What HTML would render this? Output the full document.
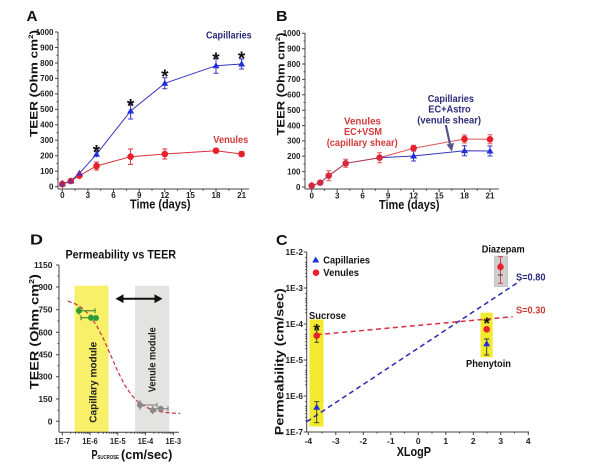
<!DOCTYPE html>
<html>
<head>
<meta charset="utf-8">
<style>
html,body{margin:0;padding:0;background:#fff;}
svg{display:block;}
text{font-family:"Liberation Sans",Arial,sans-serif;font-weight:bold;}
</style>
</head>
<body>
<svg width="604" height="465" viewBox="0 0 604 465" xmlns="http://www.w3.org/2000/svg">
<rect width="604" height="465" fill="#fff"/>

<!-- ================= PANEL A ================= -->
<text x="26.5" y="21" font-size="15" textLength="11" lengthAdjust="spacingAndGlyphs" fill="#111">A</text>
<g stroke="#444" stroke-width="1" fill="none">
  <line x1="58" y1="32" x2="58" y2="189"/>
  <line x1="58" y1="189" x2="249" y2="189"/>
  <path d="M55 186.7H58M55 171.2H58M55 155.8H58M55 140.3H58M55 124.8H58M55 109.4H58M55 93.9H58M55 78.4H58M55 63H58M55 47.5H58M55 32H58"/>
  <path d="M56.5 179H58M56.5 163.5H58M56.5 148H58M56.5 132.6H58M56.5 117.1H58M56.5 101.6H58M56.5 86.2H58M56.5 70.7H58M56.5 55.2H58M56.5 39.8H58"/>
  <path d="M62.3 189V192M87.9 189V192M113.5 189V192M139.2 189V192M164.8 189V192M190.4 189V192M216 189V192M241.6 189V192"/>
  <path d="M75.1 189V190.8M100.7 189V190.8M126.4 189V190.8M152 189V190.8M177.6 189V190.8M203.2 189V190.8M228.8 189V190.8"/>
</g>
<g font-size="8" fill="#222" text-anchor="end">
  <text x="53.5" y="189.5">0</text>
  <text x="53.5" y="174">100</text>
  <text x="53.5" y="158.6">200</text>
  <text x="53.5" y="143.1">300</text>
  <text x="53.5" y="127.6">400</text>
  <text x="53.5" y="112.2">500</text>
  <text x="53.5" y="96.7">600</text>
  <text x="53.5" y="81.2">700</text>
  <text x="53.5" y="65.8">800</text>
  <text x="53.5" y="50.3">900</text>
  <text x="53.5" y="34.8">1000</text>
</g>
<g font-size="8" fill="#222" text-anchor="middle">
  <text x="62.3" y="197.8">0</text>
  <text x="87.9" y="197.8">3</text>
  <text x="113.5" y="197.8">6</text>
  <text x="139.2" y="197.8">9</text>
  <text x="164.8" y="197.8">12</text>
  <text x="190.4" y="197.8">15</text>
  <text x="216" y="197.8">18</text>
  <text x="241.6" y="197.8">21</text>
</g>
<text x="130" y="208.7" font-size="13" textLength="60.5" lengthAdjust="spacingAndGlyphs" fill="#111">Time (days)</text>
<text transform="translate(37.3,83.5) rotate(-90) scale(1,0.85)" text-anchor="middle" font-size="13.5" textLength="107" lengthAdjust="spacingAndGlyphs" fill="#111">TEER (Ohm cm<tspan font-size="8" dy="-5">2</tspan><tspan dy="5">)</tspan></text>

<!-- A venules -->
<g stroke="#d8303a" stroke-width="1" fill="none">
  <polyline points="62.3,184 70.8,181 79.4,175.7 96.5,166 130.6,156.7 164.8,154 216,150.7 241.6,154"/>
  <path d="M62.3 180V188M96.5 162V170M94 162H99M94 170H99M130.6 149V164.4M128 149H133M128 164.4H133M164.8 149V159M162.3 149H167.3M162.3 159H167.3M216 148.5V152.9M213.5 148.5H218.5M213.5 152.9H218.5M241.6 151.8V156.2M239.1 151.8H244.1M239.1 156.2H244.1"/>
</g>
<!-- A capillaries -->
<g stroke="#3535c0" stroke-width="1" fill="none">
  <polyline points="62.3,184 70.8,181 79.4,173.3 96.5,154.3 130.6,111 164.8,83.3 216,65.7 241.6,64"/>
  <path d="M96.5 151.3V157.3M94 151.3H99M130.6 103V119M128.1 103H133.1M128.1 119H133.1M164.8 77.8V88.8M162.3 77.8H167.3M162.3 88.8H167.3M216 58.2V73.2M213.5 58.2H218.5M213.5 73.2H218.5M241.6 59V69M239.1 59H244.1M239.1 69H244.1"/>
</g>
<g fill="#e8202a">
  <circle cx="62.3" cy="184" r="3.3"/><circle cx="70.8" cy="181" r="3.3"/><circle cx="79.4" cy="175.7" r="3.3"/><circle cx="96.5" cy="166" r="3.3"/><circle cx="130.6" cy="156.7" r="3.3"/><circle cx="164.8" cy="154" r="3.3"/><circle cx="216" cy="150.7" r="3.3"/><circle cx="241.6" cy="154" r="3.3"/>
</g>
<g fill="#2030d8">
  <path d="M62.3 180.5L65.8 186.5L58.8 186.5Z" fill="#8a2a80"/>
  <path d="M70.8 177.5L74.3 183.5L67.3 183.5Z" fill="#8a2a80"/>
  <path d="M79.4 169.8L82.9 175.8L75.9 175.8Z" fill="#6a2aa0"/>
  <path d="M96.5 150.8L100 156.8L93 156.8Z"/>
  <path d="M130.6 107.5L134.1 113.5L127.1 113.5Z"/>
  <path d="M164.8 79.8L168.3 85.8L161.3 85.8Z"/>
  <path d="M216 62.2L219.5 68.2L212.5 68.2Z"/>
  <path d="M241.6 60.5L245.1 66.5L238.1 66.5Z"/>
</g>
<g font-size="19" fill="#111" text-anchor="middle">
  <text x="96.5" y="158.5">*</text>
  <text x="130.6" y="112.5">*</text>
  <text x="164.8" y="83">*</text>
  <text x="216" y="65.8">*</text>
  <text x="241.6" y="64.8">*</text>
</g>
<text x="206" y="38.5" font-size="10.5" textLength="45.7" lengthAdjust="spacingAndGlyphs" fill="#2b2b7a">Capillaries</text>
<text x="213.3" y="143" font-size="10.5" textLength="35" lengthAdjust="spacingAndGlyphs" fill="#d23a3a">Venules</text>

<!-- ================= PANEL B ================= -->
<text x="276" y="21" font-size="15" textLength="11.5" lengthAdjust="spacingAndGlyphs" fill="#111">B</text>
<g stroke="#444" stroke-width="1" fill="none">
  <line x1="305" y1="33" x2="305" y2="189"/>
  <line x1="305" y1="189" x2="499" y2="189"/>
  <path d="M302 187H305M302 171.6H305M302 156.3H305M302 140.9H305M302 125.5H305M302 110.2H305M302 94.8H305M302 79.4H305M302 64H305M302 48.7H305M302 33.3H305"/>
  <path d="M303.5 179.3H305M303.5 164H305M303.5 148.6H305M303.5 133.2H305M303.5 117.9H305M303.5 102.5H305M303.5 87.1H305M303.5 71.7H305M303.5 56.4H305M303.5 41H305"/>
  <path d="M311.7 189V192M337.2 189V192M362.6 189V192M388.1 189V192M413.6 189V192M439.1 189V192M464.5 189V192M490 189V192"/>
  <path d="M324.4 189V190.8M349.9 189V190.8M375.3 189V190.8M400.8 189V190.8M426.3 189V190.8M451.8 189V190.8M477.2 189V190.8"/>
</g>
<g font-size="8" fill="#222" text-anchor="end">
  <text x="300.5" y="189.8">0</text>
  <text x="300.5" y="174.4">100</text>
  <text x="300.5" y="159.1">200</text>
  <text x="300.5" y="143.7">300</text>
  <text x="300.5" y="128.3">400</text>
  <text x="300.5" y="113">500</text>
  <text x="300.5" y="97.6">600</text>
  <text x="300.5" y="82.2">700</text>
  <text x="300.5" y="66.8">800</text>
  <text x="300.5" y="51.5">900</text>
  <text x="300.5" y="36.1">1000</text>
</g>
<g font-size="8" fill="#222" text-anchor="middle">
  <text x="311.7" y="198.5">0</text>
  <text x="337.2" y="198.5">3</text>
  <text x="362.6" y="198.5">6</text>
  <text x="388.1" y="198.5">9</text>
  <text x="413.6" y="198.5">12</text>
  <text x="439.1" y="198.5">15</text>
  <text x="464.5" y="198.5">18</text>
  <text x="490" y="198.5">21</text>
</g>
<text x="379" y="209" font-size="13" textLength="60.5" lengthAdjust="spacingAndGlyphs" fill="#111">Time (days)</text>
<text transform="translate(284.3,84) rotate(-90) scale(1,0.85)" text-anchor="middle" font-size="13.5" textLength="103" lengthAdjust="spacingAndGlyphs" fill="#111">TEER (Ohm cm<tspan font-size="8" dy="-5">2</tspan><tspan dy="5">)</tspan></text>

<!-- B capillaries (blue) -->
<g stroke="#3535c0" stroke-width="1" fill="none">
  <polyline points="311.7,185.7 320.2,182.7 328.7,175.7 345.7,163.3 379.6,157.7 413.6,156 464.5,150.7 490,151"/>
  <path d="M413.6 151V161M411.1 151H416.1M411.1 161H416.1M464.5 145.7V155.7M462 145.7H467M462 155.7H467M490 146V156M487.5 146H492.5M487.5 156H492.5"/>
</g>
<!-- B venules (red) -->
<g stroke="#d83a3a" stroke-width="1" fill="none" stroke-opacity="0.85">
  <polyline points="311.7,185.7 320.2,182.7 328.7,175.7 345.7,163.3 379.6,157.7 413.6,148.3 464.5,139 490,139.3"/>
  <path d="M311.7 182V189.5M328.7 170.7V180.7M326.2 170.7H331.2M326.2 180.7H331.2M345.7 159.3V167.3M343.2 159.3H348.2M343.2 167.3H348.2M379.6 152.7V162.7M377.1 152.7H382.1M377.1 162.7H382.1M413.6 145.3V151.3M411.1 145.3H416.1M464.5 135V143M462 135H467M462 143H467M490 134.8V143.8M487.5 134.8H492.5M487.5 143.8H492.5"/>
</g>
<g fill="#2030d8">
  <path d="M413.6 152.5L417.1 158.5L410.1 158.5Z"/>
  <path d="M464.5 147.2L468 153.2L461 153.2Z"/>
  <path d="M490 147.5L493.5 153.5L486.5 153.5Z"/>
</g>
<g fill="#d42a40">
  <circle cx="311.7" cy="185.7" r="3.3"/><circle cx="320.2" cy="182.7" r="3.3"/><circle cx="328.7" cy="175.7" r="3.3"/><circle cx="345.7" cy="163.3" r="3.3"/><circle cx="379.6" cy="157.7" r="3.3"/><circle cx="413.6" cy="148.3" r="3.3" fill="#e8202a"/><circle cx="464.5" cy="139" r="3.3" fill="#e8202a"/><circle cx="490" cy="139.3" r="3.3" fill="#e8202a"/>
</g>
<g font-size="10.5" fill="#d23a3a">
  <text x="344" y="124.5" textLength="37" lengthAdjust="spacingAndGlyphs">Venules</text>
  <text x="344" y="135.2" textLength="38" lengthAdjust="spacingAndGlyphs">EC+VSM</text>
  <text x="326.7" y="146" textLength="71" lengthAdjust="spacingAndGlyphs">(capillary shear)</text>
</g>
<g font-size="10.5" fill="#2b2b7a">
  <text x="427.7" y="102" textLength="46.3" lengthAdjust="spacingAndGlyphs">Capillaries</text>
  <text x="428.3" y="112.5" textLength="42.4" lengthAdjust="spacingAndGlyphs">EC+Astro</text>
  <text x="417.3" y="123.5" textLength="63.7" lengthAdjust="spacingAndGlyphs">(venule shear)</text>
</g>
<line x1="445.8" y1="125" x2="450.2" y2="145" stroke="#55558a" stroke-width="2.2"/>
<path d="M446.6 144.5L454 143L451.9 151.5Z" fill="#55558a"/>

<!-- ================= PANEL D ================= -->
<text x="30" y="244.5" font-size="15" textLength="13" lengthAdjust="spacingAndGlyphs" fill="#111">D</text>
<text x="65.5" y="258.3" font-size="11.5" textLength="110.5" lengthAdjust="spacingAndGlyphs" fill="#111">Permeability vs TEER</text>
<rect x="74.5" y="285.7" width="34" height="146.3" fill="#f7f068"/>
<rect x="135" y="285.7" width="34.3" height="146.3" fill="#e3e3e1"/>
<text transform="translate(96.3,382.3) rotate(-90)" text-anchor="middle" font-size="10" textLength="81" lengthAdjust="spacingAndGlyphs" fill="#222">Capillary module</text>
<text transform="translate(155.6,359.7) rotate(-90)" text-anchor="middle" font-size="10" textLength="65" lengthAdjust="spacingAndGlyphs" fill="#222">Venule module</text>
<g stroke="#444" stroke-width="1" fill="none">
  <line x1="59" y1="265" x2="59" y2="432.3"/>
  <line x1="59" y1="432.3" x2="179" y2="432.3"/>
  <path d="M56 265H59M56 287H59M56 309.7H59M56 332.3H59M56 354.7H59M56 376.7H59M56 399H59M56 421.3H59"/>
  <path d="M57.5 276H59M57.5 298.3H59M57.5 321H59M57.5 343.5H59M57.5 365.7H59M57.5 387.8H59M57.5 410.2H59"/>
  <path d="M62.3 432.3V435.3M90 432.3V435.3M117.8 432.3V435.3M145.5 432.3V435.3M173.3 432.3V435.3"/>
  <path d="M70.7 432.3V433.8M75.5 432.3V433.8M79 432.3V433.8M81.7 432.3V433.8M83.9 432.3V433.8M85.8 432.3V433.8M87.4 432.3V433.8M88.8 432.3V433.8
           M98.4 432.3V433.8M103.3 432.3V433.8M106.8 432.3V433.8M109.5 432.3V433.8M111.7 432.3V433.8M113.5 432.3V433.8M115.1 432.3V433.8M116.5 432.3V433.8
           M126.1 432.3V433.8M131 432.3V433.8M134.5 432.3V433.8M137.2 432.3V433.8M139.4 432.3V433.8M141.2 432.3V433.8M142.8 432.3V433.8M144.2 432.3V433.8
           M153.9 432.3V433.8M158.8 432.3V433.8M162.2 432.3V433.8M164.9 432.3V433.8M167.1 432.3V433.8M169 432.3V433.8M170.6 432.3V433.8M172 432.3V433.8"/>
</g>
<g font-size="8.5" fill="#222" text-anchor="end">
  <text x="52.5" y="268">1150</text>
  <text x="52.5" y="290">900</text>
  <text x="52.5" y="312.7">750</text>
  <text x="52.5" y="335.3">600</text>
  <text x="52.5" y="357.7">450</text>
  <text x="52.5" y="379.7">300</text>
  <text x="52.5" y="402">150</text>
  <text x="52.5" y="424.3">0</text>
</g>
<g font-size="8.5" fill="#222" text-anchor="middle">
  <text x="62.3" y="444.2" textLength="15.5" lengthAdjust="spacingAndGlyphs">1E-7</text>
  <text x="90" y="444.2" textLength="15.5" lengthAdjust="spacingAndGlyphs">1E-6</text>
  <text x="117.8" y="444.2" textLength="15.5" lengthAdjust="spacingAndGlyphs">1E-5</text>
  <text x="145.5" y="444.2" textLength="15.5" lengthAdjust="spacingAndGlyphs">1E-4</text>
  <text x="173.3" y="444.2" textLength="15.5" lengthAdjust="spacingAndGlyphs">1E-3</text>
</g>
<text x="91.5" y="459" font-size="13" fill="#111" textLength="6" lengthAdjust="spacingAndGlyphs">P</text>
<text x="97.5" y="459" font-size="5.5" fill="#111" textLength="21.5" lengthAdjust="spacingAndGlyphs">SUCROSE</text>
<text x="121" y="459" font-size="13" fill="#111" textLength="51.3" lengthAdjust="spacingAndGlyphs">(cm/sec)</text>
<text transform="translate(38.3,331.7) rotate(-90) scale(1,0.85)" text-anchor="middle" font-size="14" textLength="115" lengthAdjust="spacingAndGlyphs" fill="#111">TEER (Ohm cm<tspan font-size="8.5" dy="-5">2</tspan><tspan dy="5">)</tspan></text>
<!-- double arrow -->
<line x1="121" y1="298.7" x2="157" y2="298.7" stroke="#111" stroke-width="2"/>
<path d="M115.5 298.7L123.5 294.3L123.5 303.1Z" fill="#111"/>
<path d="M162.5 298.7L154.5 294.3L154.5 303.1Z" fill="#111"/>
<!-- sigmoid -->
<polyline points="67.9,301.1 76.2,304.3 83.2,308.8 90.1,316 97,326.3 104,339.9 110.9,355.6 117.8,371.4 124.7,385 131.7,395.4 138.7,402.5 145.6,407 152.5,409.8 159.4,411.5 166.4,412.5 173.3,413.1 180.2,413.4" fill="none" stroke="#c83040" stroke-width="1.2" stroke-dasharray="4,2.5"/>
<!-- green points -->
<g stroke="#2e7a2e" stroke-width="1" fill="none">
  <path d="M79 310.7H95M95 308.2V313.2M79 306.7V314.7M81 317.7H96M81 315.2V320.2M91 314.5V321"/>
</g>
<g fill="#2f9a3a">
  <circle cx="79" cy="310.7" r="3"/>
  <circle cx="91" cy="317.7" r="3"/>
  <circle cx="96" cy="318" r="3"/>
</g>
<!-- gray points -->
<g stroke="#777" stroke-width="1" fill="none">
  <path d="M140 405H157M157 402.5V407.5M140 400V410M152 408.7H168M168 406.2V411.2M152.7 406V414"/>
</g>
<g fill="#8a8a8a">
  <circle cx="140" cy="405" r="3"/>
  <circle cx="152.7" cy="410.3" r="3"/>
  <circle cx="160.7" cy="408.7" r="3"/>
</g>

<!-- ================= PANEL C ================= -->
<text x="276" y="245" font-size="15" textLength="11.5" lengthAdjust="spacingAndGlyphs" fill="#111">C</text>
<rect x="309.5" y="319.5" width="14" height="107" fill="#f2ea2e"/>
<rect x="480.5" y="312.7" width="12.2" height="44.6" fill="#f2ea2e"/>
<rect x="494.2" y="256" width="13.6" height="30.7" fill="#cfcfcf" stroke="#b8b8b8" stroke-width="0.5"/>
<g stroke="#444" stroke-width="1" fill="none">
  <line x1="306.7" y1="252" x2="306.7" y2="432"/>
  <line x1="306.7" y1="432" x2="529" y2="432"/>
  <path d="M303.7 252H306.7M303.7 288H306.7M303.7 324H306.7M303.7 360H306.7M303.7 396H306.7M303.7 432H306.7"/>
  <path d="M305.2 257.6H306.7M305.2 262.2H306.7M305.2 264.2H306.7M305.2 266.5H306.7M305.2 269.6H306.7M305.2 273.2H306.7M305.2 276.8H306.7
           M305.2 293.6H306.7M305.2 298.2H306.7M305.2 300.2H306.7M305.2 302.5H306.7M305.2 305.6H306.7M305.2 309.2H306.7M305.2 312.8H306.7
           M305.2 329.6H306.7M305.2 334.2H306.7M305.2 336.2H306.7M305.2 338.5H306.7M305.2 341.6H306.7M305.2 345.2H306.7M305.2 348.8H306.7
           M305.2 365.6H306.7M305.2 370.2H306.7M305.2 372.2H306.7M305.2 374.5H306.7M305.2 377.6H306.7M305.2 381.2H306.7M305.2 384.8H306.7
           M305.2 401.6H306.7M305.2 406.2H306.7M305.2 408.2H306.7M305.2 410.5H306.7M305.2 413.6H306.7M305.2 417.2H306.7M305.2 420.8H306.7"/>
  <path d="M308.3 432V435M335.8 432V435M363.3 432V435M390.8 432V435M418.3 432V435M445.8 432V435M473.3 432V435M500.8 432V435M528.3 432V435"/>
  <path d="M322 432V433.5M349.5 432V433.5M377 432V433.5M404.5 432V433.5M432 432V433.5M459.5 432V433.5M487 432V433.5M514.5 432V433.5"/>
</g>
<g font-size="8.5" fill="#222" text-anchor="end">
  <text x="303" y="255" textLength="17.5" lengthAdjust="spacingAndGlyphs">1E-2</text>
  <text x="303" y="291" textLength="17.5" lengthAdjust="spacingAndGlyphs">1E-3</text>
  <text x="303" y="327" textLength="17.5" lengthAdjust="spacingAndGlyphs">1E-4</text>
  <text x="303" y="363" textLength="17.5" lengthAdjust="spacingAndGlyphs">1E-5</text>
  <text x="303" y="399" textLength="17.5" lengthAdjust="spacingAndGlyphs">1E-6</text>
  <text x="303" y="435" textLength="17.5" lengthAdjust="spacingAndGlyphs">1E-7</text>
</g>
<g font-size="8.5" fill="#222" text-anchor="middle">
  <text x="308.3" y="444">-4</text>
  <text x="335.8" y="444">-3</text>
  <text x="363.3" y="444">-2</text>
  <text x="390.8" y="444">-1</text>
  <text x="418.3" y="444">0</text>
  <text x="445.8" y="444">1</text>
  <text x="473.3" y="444">2</text>
  <text x="500.8" y="444">3</text>
  <text x="528.3" y="444">4</text>
</g>
<text x="396.7" y="456" font-size="12.5" textLength="34.3" lengthAdjust="spacingAndGlyphs" fill="#111">XLogP</text>
<text transform="translate(283.5,361.7) rotate(-90) scale(1,0.85)" text-anchor="middle" font-size="14" textLength="147" lengthAdjust="spacingAndGlyphs" fill="#111">Permeability (cm/sec)</text>

<!-- legend -->
<path d="M315.7 256.5L319.2 262.5L312.2 262.5Z" fill="#2030d8"/>
<circle cx="316" cy="272.7" r="3.3" fill="#e8202a"/>
<text x="323.3" y="263.5" font-size="10.5" textLength="46.7" lengthAdjust="spacingAndGlyphs" fill="#111">Capillaries</text>
<text x="323.3" y="276.2" font-size="10.5" textLength="35.7" lengthAdjust="spacingAndGlyphs" fill="#111">Venules</text>

<!-- fit lines -->
<line x1="306.7" y1="421.7" x2="520" y2="281" stroke="#2a2ab0" stroke-width="1.5" stroke-dasharray="5,3.5"/>
<line x1="316.7" y1="334.7" x2="512.7" y2="316.7" stroke="#d83040" stroke-width="1.5" stroke-dasharray="5,3.5"/>
<text x="516" y="280.7" font-size="10.5" textLength="29.5" lengthAdjust="spacingAndGlyphs" fill="#2b2b7a">S=0.80</text>
<text x="516" y="313.5" font-size="10.5" textLength="29.5" lengthAdjust="spacingAndGlyphs" fill="#d23a3a">S=0.30</text>

<!-- Sucrose -->
<text x="309" y="319" font-size="10.5" textLength="37" lengthAdjust="spacingAndGlyphs" fill="#111">Sucrose</text>
<g stroke="#333" stroke-width="0.9" fill="none">
  <path d="M316.7 330V342.3M314.5 330H318.9M314.5 342.3H318.9"/>
  <path d="M316.7 401.7V422.7M314.2 401.7H319.2M314.2 422.7H319.2"/>
</g>
<circle cx="316.7" cy="335.7" r="3.3" fill="#e8202a"/>
<path d="M316.7 403.7L320.2 409.7L313.2 409.7Z" fill="#2030d8"/>
<text x="316.7" y="335.5" font-size="17" text-anchor="middle" fill="#111">*</text>

<!-- Phenytoin -->
<text x="466" y="367" font-size="10.5" textLength="45" lengthAdjust="spacingAndGlyphs" fill="#111">Phenytoin</text>
<g stroke="#333" stroke-width="0.9" fill="none">
  <path d="M486.7 339V355M484.2 339H489.2M484.2 355H489.2"/>
</g>
<circle cx="486.7" cy="329.3" r="3.3" fill="#e8202a"/>
<path d="M486.7 340.3L490.2 346.3L483.2 346.3Z" fill="#2030d8"/>
<text x="486.7" y="329" font-size="17" text-anchor="middle" fill="#111">*</text>

<!-- Diazepam -->
<text x="481.7" y="252.5" font-size="10.5" textLength="43" lengthAdjust="spacingAndGlyphs" fill="#111">Diazepam</text>
<g stroke="#d83040" stroke-width="0.9" fill="none">
  <path d="M500.5 256.7V283.3M498 256.7H503M498 283.3H503"/>
  <path d="M498 275H503" stroke="#333"/>
</g>
<circle cx="500.5" cy="267" r="3.2" fill="#e8202a"/>
<path d="M500.5 261.7L504 267.7L497 267.7Z" fill="#e8202a"/>
</svg>
</body>
</html>
